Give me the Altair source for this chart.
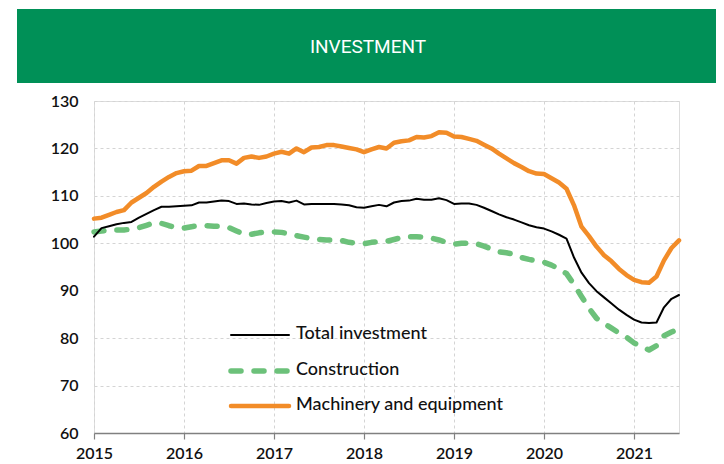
import altair as alt
import pandas as pd

# Monthly index values, Jan 2015 .. Jul 2021
total = [101.4, 103.2, 103.6, 104.0, 104.3, 104.5, 105.4, 106.2, 107.0, 107.7, 107.7, 107.8,
         107.9, 108.0, 108.6, 108.6, 108.8, 109.0, 108.9, 108.3, 108.4, 108.2, 108.1, 108.5,
         108.8, 108.9, 108.6, 109.0, 108.2, 108.3, 108.3, 108.3, 108.3, 108.2, 108.0, 107.6,
         107.5, 107.8, 108.1, 107.8, 108.6, 108.9, 109.0, 109.4, 109.2, 109.2, 109.5, 109.1,
         108.3, 108.4, 108.4, 108.1, 107.5, 106.8, 106.1, 105.5, 105.0, 104.4, 103.8, 103.4,
         103.1, 102.5, 101.8, 101.0, 97.0, 93.8, 91.6, 89.9, 88.6, 87.3, 86.0, 84.9,
         83.9, 83.3, 83.2, 83.3, 86.5, 88.3, 89.1]
construction = [102.4, 102.6, 102.8, 102.8, 102.8, 103.0, 103.3, 103.8, 104.3, 104.2, 103.7, 103.3,
                103.2, 103.5, 103.7, 103.7, 103.6, 103.6, 103.3, 102.6, 101.9, 101.9, 102.2, 102.4,
                102.4, 102.3, 102.0, 101.6, 101.3, 101.0, 100.8, 100.7, 100.7, 100.6, 100.2, 100.0,
                99.9, 100.2, 100.3, 100.4, 100.8, 101.2, 101.4, 101.4, 101.3, 101.1, 100.7, 100.2,
                99.8, 100.0, 100.0, 99.9, 99.4, 98.8, 98.2, 98.0, 97.7, 97.0, 96.6, 96.3,
                96.0, 95.4, 94.6, 93.6, 91.3, 88.8, 86.3, 84.2, 83.1, 82.1, 81.1, 80.2,
                79.0, 78.2, 77.5, 78.4, 80.5, 81.3, 81.9]
machinery = [105.2, 105.4, 106.0, 106.6, 107.0, 108.6, 109.6, 110.6, 111.9, 113.0, 114.0, 114.8,
             115.2, 115.3, 116.3, 116.3, 116.9, 117.5, 117.5, 116.8, 118.0, 118.3, 118.0, 118.3,
             118.9, 119.3, 118.9, 120.0, 119.2, 120.2, 120.3, 120.7, 120.7, 120.4, 120.1, 119.8,
             119.2, 119.8, 120.3, 120.0, 121.2, 121.5, 121.7, 122.4, 122.3, 122.6, 123.4, 123.3,
             122.5, 122.4, 122.0, 121.6, 120.8, 120.0, 118.9, 117.9, 116.9, 116.1, 115.2, 114.7,
             114.6, 113.7, 112.8, 111.5, 108.0, 103.5, 101.5, 99.3, 97.5, 96.2, 94.6, 93.3,
             92.3, 91.8, 91.7, 93.0, 96.4, 99.0, 100.6]

series_names = ["Total investment", "Construction", "Machinery and equipment"]
year_ticks = [2015, 2016, 2017, 2018, 2019, 2020, 2021]
y_ticks = [60, 70, 80, 90, 100, 110, 120, 130]
title_text = "INVESTMENT"

months = [2015 + i / 12 for i in range(len(total))]
rows = []
for name, vals in zip(series_names, [total, construction, machinery]):
    for t, v in zip(months, vals):
        rows.append({"t": t, "v": v, "series": name})
df = pd.DataFrame(rows)

FONT = "Lato"
GREEN_DARK = "#009057"
GREEN_LIGHT = "#6CC17A"
ORANGE = "#F28C28"

base = alt.Chart(df)

x_enc = alt.X("t:Q", scale=alt.Scale(domain=[2015, 2021.5], nice=False, zero=False),
              axis=alt.Axis(values=year_ticks, format="d", title=None, grid=True,
                            gridDash=[3, 3], gridColor="#d4d4d4", gridWidth=1,
                            domainColor="#808080", domainWidth=1.5,
                            tickColor="#808080", tickSize=6, tickWidth=1.2,
                            labelFontSize=16, labelFont=FONT, labelColor="#111111",
                            labelFontWeight=600, labelPadding=6, labelFlush=False))
y_enc = alt.Y("v:Q", scale=alt.Scale(domain=[60, 130], nice=False, zero=False),
              axis=alt.Axis(values=y_ticks, title=None, grid=True,
                            gridDash=[3, 3], gridColor="#d4d4d4", gridWidth=1,
                            domain=False, ticks=False,
                            labelFontSize=16, labelFont=FONT, labelColor="#111111",
                            labelFontWeight=600, labelPadding=16))

def line(name, color, width, dash=None):
    kw = dict(color=color, strokeWidth=width, strokeCap="round", strokeJoin="round")
    if dash:
        kw["strokeDash"] = dash
    return base.transform_filter(alt.datum.series == name).mark_line(**kw).encode(
        x=x_enc, y=y_enc, detail="series:N")

lines = [
    line("Construction", GREEN_LIGHT, 5.5, [10, 13]),
    line("Machinery and equipment", ORANGE, 4.5),
    line("Total investment", "#000000", 2),
]

one = alt.Data(values=[{"a": 1}])
header = alt.Chart(one).mark_rect(color=GREEN_DARK, clip=False).encode(
    x=alt.value(-77), x2=alt.value(626), y=alt.value(-92), y2=alt.value(-18))
header_text = alt.Chart(one).mark_text(color="white", fontSize=19, font="Roboto",
                                       align="center", baseline="middle", clip=False).encode(
    x=alt.value(274), y=alt.value(-54), text=alt.value(title_text))

legend_styles = [
    (series_names[0], "#000000", 2, None, 234),
    (series_names[1], GREEN_LIGHT, 5.5, [10, 13], 270),
    (series_names[2], ORANGE, 4.5, None, 305),
]
legend_layers = []
for name, color, width, dash, ypos in legend_styles:
    kw = dict(color=color, strokeWidth=width, strokeCap="round")
    if dash:
        kw["strokeDash"] = dash
    legend_layers.append(alt.Chart(one).mark_rule(**kw).encode(
        x=alt.value(137), x2=alt.value(195), y=alt.value(ypos)))
    legend_layers.append(alt.Chart(one).mark_text(align="left", baseline="middle",
                                                  fontSize=18, font=FONT, fontWeight=500,
                                                  color="#111111").encode(
        x=alt.value(202), y=alt.value(ypos - 1), text=alt.value(name)))

chart = alt.layer(header, header_text, *lines, *legend_layers).properties(
    width=585, height=332,
    autosize=alt.AutoSizeParams(type="none"),
    padding={"left": 86, "top": 93, "right": 37, "bottom": 28},
).configure_view(stroke=None).configure(background="white")

chart.save("out.html", embed_options={"renderer": "svg", "actions": False})
